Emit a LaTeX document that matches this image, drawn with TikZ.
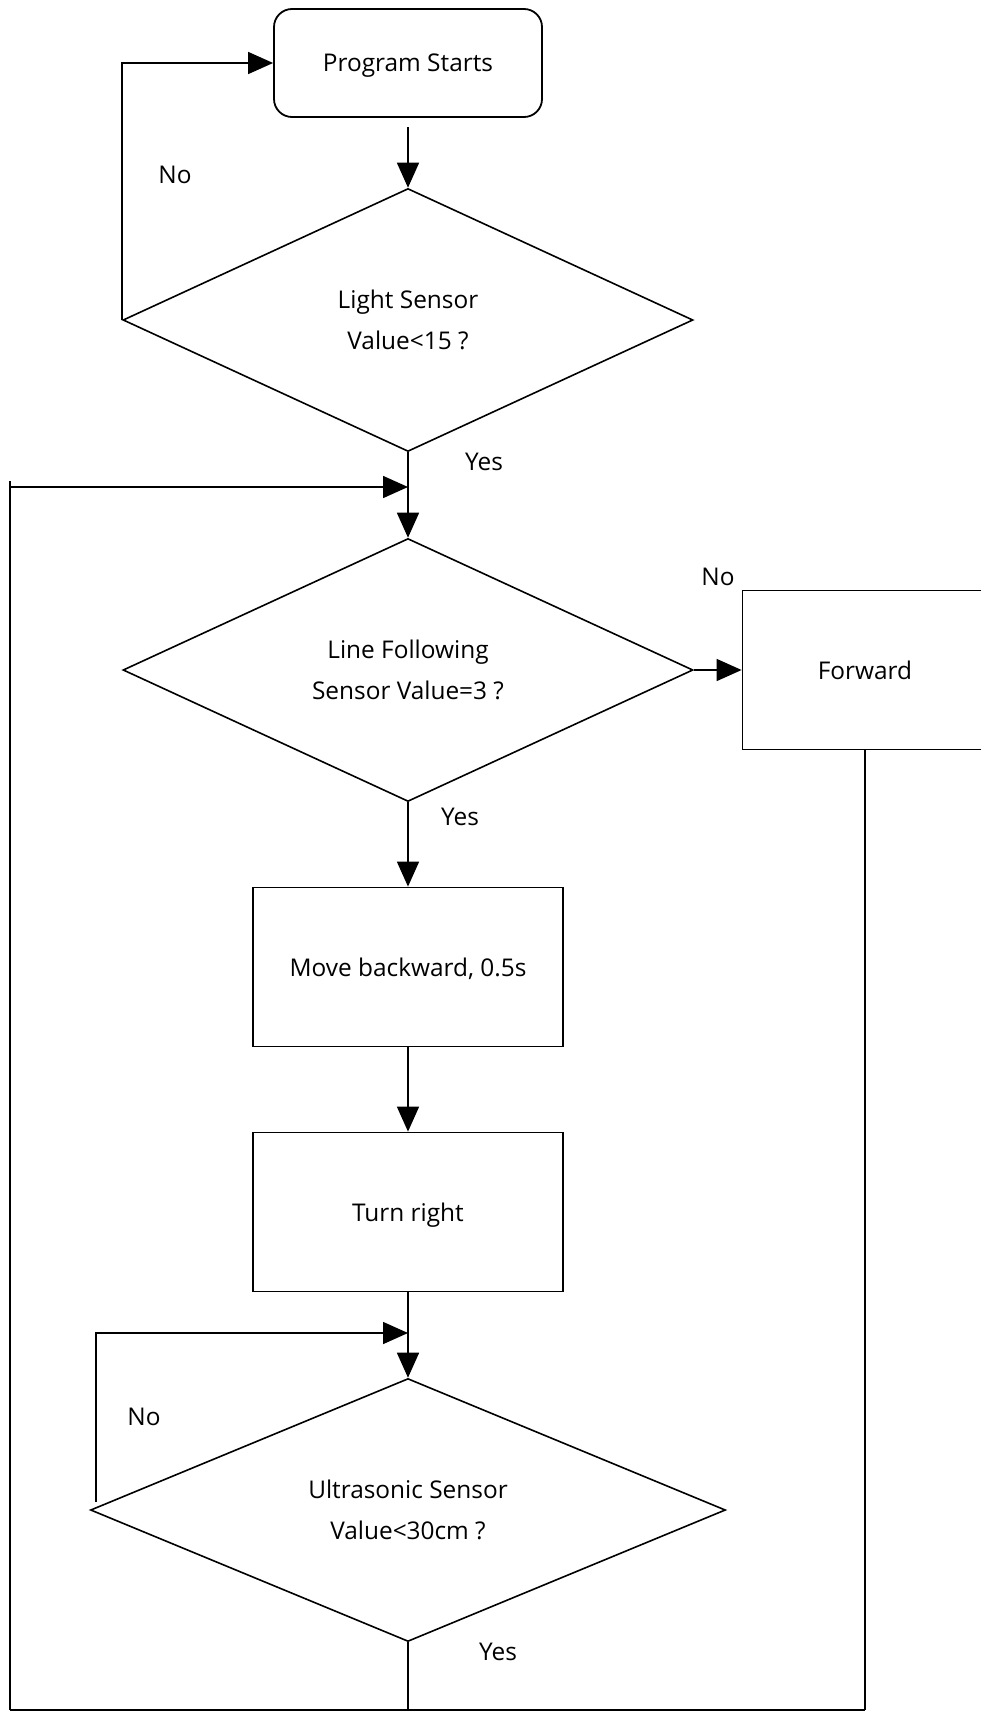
\documentclass[tikz,border=0pt]{standalone}
\usepackage{fontspec}
\setmainfont{Open Sans}
\usetikzlibrary{shapes.geometric,arrows.meta}
\tikzset{
  line/.style={line width=0.8pt},
  arr/.style={line width=0.8pt,-{Triangle[length=12.5pt,width=11pt]}},
  stepbox/.style={draw,line width=0.9pt,text depth=0pt,minimum width=155pt,minimum height=79.5pt},
  decision/.style={draw,diamond,line width=0.8pt,inner sep=0pt,text depth=0pt,align=center,minimum width=285pt,minimum height=131.5pt},
}
\begin{document}
\begin{tikzpicture}[x=0.5pt,y=-0.5pt,font=\fontsize{12.2}{20.5}\selectfont]
\useasboundingbox (0,0) rectangle (980,1713);
\node[draw,rounded corners=9pt,line width=0.9pt,text depth=0pt,minimum width=134pt,minimum height=54pt] (start) at (408,63) {Program Starts};
\node[decision] (light) at (408,320) {Light Sensor\\Value<15 ?};
\node[decision] (line) at (408,670) {Line Following\\Sensor Value=3 ?};
\node[stepbox,minimum width=122.5pt] (fwd) at (865,670) {Forward};
\node[stepbox] (back) at (408,967) {Move backward, 0.5s};
\node[stepbox] (turn) at (408,1212) {Turn right};
\node[decision,minimum width=317.5pt] (ultra) at (408,1510) {Ultrasonic Sensor\\Value<30cm ?};
\coordinate (j1) at (408,487);
\coordinate (j2) at (408,1333);
\coordinate (bl) at (10,1710);
\draw[arr] ([yshift=-4.5pt]start.south) -- (light.north);
\draw[arr] (light.west) |- (start.west);
\draw[arr] (light.south) -- (line.north);
\draw[line] (bl) -- ++(0,-1229);
\draw[arr] (bl |- j1) -- (j1);
\draw[arr] (line.east) -- (fwd.west);
\draw[arr] (line.south) -- (back.north);
\draw[arr] (back.south) -- (turn.north);
\draw[arr] (turn.south) -- (ultra.north);
\draw[arr] ([xshift=3pt,yshift=4pt]ultra.west) |- (j2);
\draw[line] (ultra.south) -- (ultra.south |- bl);
\draw[line] (fwd.south) -- (fwd.south |- bl);
\draw[line] (bl) -- (fwd.south |- bl);
\node (no1) at (175,175) {No};
\node (yes1) at (484,462) {Yes};
\node (no2) at (718,577) {No};
\node (yes2) at (460,817) {Yes};
\node (no3) at (144,1417) {No};
\node (yes3) at (498,1652) {Yes};
\end{tikzpicture}
\end{document}
